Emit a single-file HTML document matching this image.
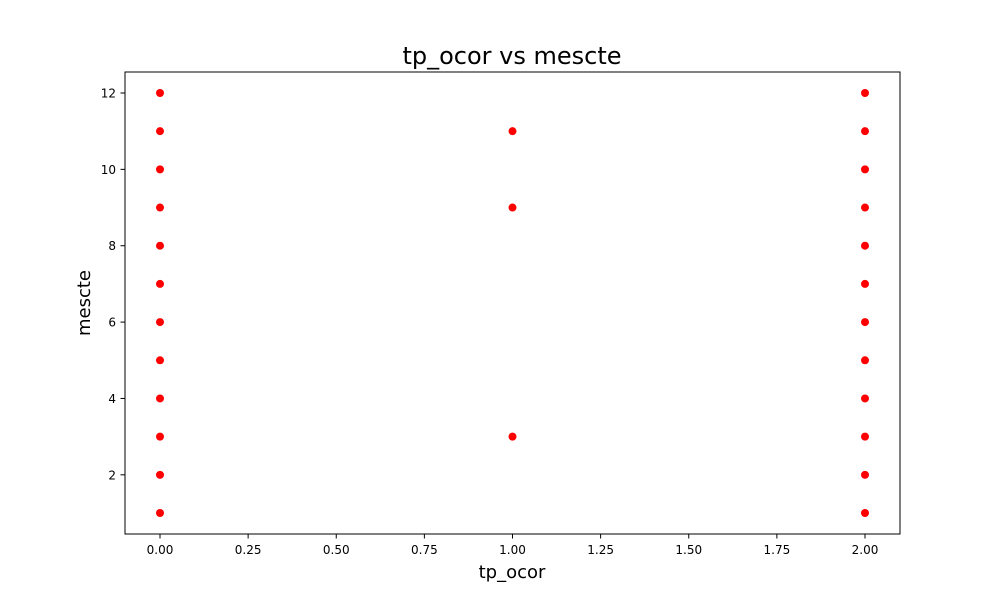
<!DOCTYPE html>
<html><head><meta charset="utf-8"><style>
body{margin:0;background:#fff;}
svg text{font-family:"DejaVu Sans","Liberation Sans",sans-serif;}
</style></head><body>
<svg width="1000" height="600" viewBox="0 0 1000 600">
<rect width="1000" height="600" fill="#fff"/>
<text x="512" y="64" font-size="24" text-anchor="middle">tp_ocor vs mescte</text>
<g id="plot"></g>
<rect x="125" y="72" width="775" height="462" fill="none" stroke="#000" stroke-width="1"/>
<text x="512" y="578" font-size="18" text-anchor="middle">tp_ocor</text>
<text x="90" y="303" font-size="18" text-anchor="middle" transform="rotate(-90 90 303)">mescte</text>
</svg>
<script>
const xVals=[0,0,0,0,0,0,0,0,0,0,0,0,1,1,1,2,2,2,2,2,2,2,2,2,2,2,2];
const yVals=[1,2,3,4,5,6,7,8,9,10,11,12,3,9,11,1,2,3,4,5,6,7,8,9,10,11,12];
const xTicks=[0,0.25,0.5,0.75,1,1.25,1.5,1.75,2];
const yTicks=[2,4,6,8,10,12];
const NS="http://www.w3.org/2000/svg";
const g=document.getElementById('plot');
function sx(v){return 160+v*352.5;}
function sy(v){return 513-(v-1)*(420/11);}
function mk(t,a){const e=document.createElementNS(NS,t);for(const k in a)e.setAttribute(k,a[k]);g.appendChild(e);return e;}
xTicks.forEach(t=>{
  const l=mk('line',{x1:sx(t),x2:sx(t),y1:534,y2:538.5,stroke:'#000'});
  
  
  const tx=mk('text',{x:sx(t),y:554,'font-size':12,'text-anchor':'middle'});
  tx.textContent=t.toFixed(2);
  
  
});
yTicks.forEach(t=>{
  const l=mk('line',{x1:120.5,x2:125,y1:sy(t),y2:sy(t),stroke:'#000'});
  
  
  const tx=mk('text',{x:116,y:sy(t)+4.5,'font-size':12,'text-anchor':'end'});
  tx.textContent=t;
  
  
});
xVals.forEach((x,i)=>{
  const c=mk('circle',{cx:sx(x),cy:sy(yVals[i]),r:4,fill:'#ff0000'});
  
  
});
</script>
</body></html>
